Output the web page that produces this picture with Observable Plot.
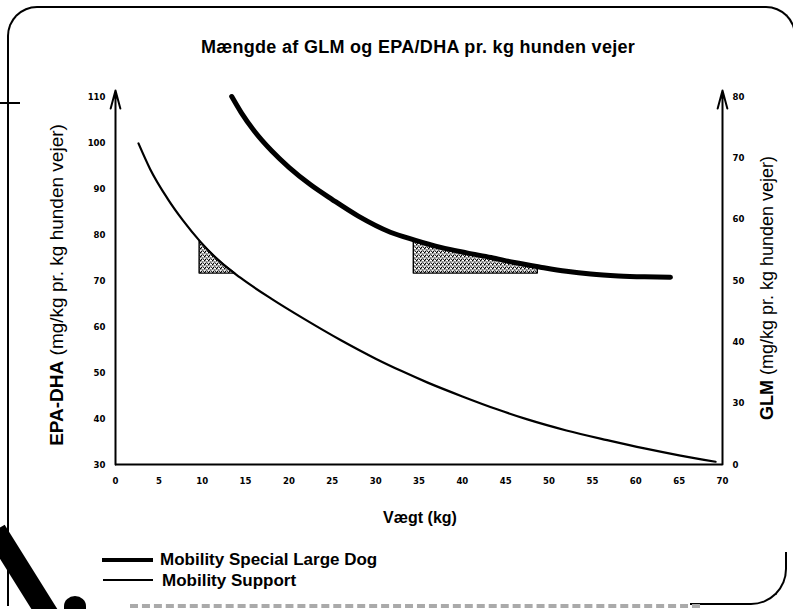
<!DOCTYPE html>
<html><head><meta charset="utf-8">
<script src="https://cdn.jsdelivr.net/npm/d3@7"></script>
<script src="https://cdn.jsdelivr.net/npm/@observablehq/plot@0.6"></script>
<style>
html,body{margin:0;padding:0;background:#fff;}
#wrap{position:relative;width:793px;height:609px;overflow:hidden;font-family:"Liberation Sans",Arial,sans-serif;color:#000;background:#fff;}
#chart{position:absolute;left:0;top:0;}
.abs{position:absolute;white-space:nowrap;}
#chart svg g[aria-label$="tick label"]{font-weight:bold;}
</style></head><body>
<div id="wrap">
  <div id="chart"></div>
  <div class="abs" style="left:7px;top:6px;width:789px;height:600px;box-sizing:border-box;border:2px solid #000;border-bottom:none;border-radius:30px 30px 0 0;"></div>
  <div class="abs" style="left:690px;top:552px;width:97px;height:53px;box-sizing:border-box;border-right:2px solid #000;border-bottom:2px solid #000;border-bottom-right-radius:36px;"></div>
  <div class="abs" style="left:0;top:102px;width:20px;height:2px;background:#000;"></div>
  <div class="abs" style="left:14px;top:522px;width:22px;height:112px;background:#000;transform:rotate(-32deg);"></div>
  <div class="abs" style="left:64px;top:596px;width:22px;height:20px;background:#000;border-radius:50% 50% 0 0;"></div>
  <div class="abs" style="left:130px;top:604px;width:570px;height:0;border-top:4px dashed #aaa;"></div>
  <div class="abs" style="left:418px;top:47px;transform:translate(-50%,-50%);font-weight:bold;font-size:18px;letter-spacing:0.3px;">Mængde af GLM og EPA/DHA pr. kg hunden vejer</div>
  <div class="abs" style="left:420px;top:518px;transform:translate(-50%,-50%);font-weight:bold;font-size:16px;">Vægt (kg)</div>
  <div class="abs" style="left:57px;top:285px;transform:translate(-50%,-50%) rotate(-90deg);font-size:19px;"><b>EPA-DHA</b> (mg/kg pr. kg hunden vejer)</div>
  <div class="abs" style="left:767px;top:288px;transform:translate(-50%,-50%) rotate(-90deg);font-size:18px;"><b>GLM</b> (mg/kg pr. kg hunden vejer)</div>
  <div class="abs" style="left:102px;top:558px;width:51px;height:4px;background:#000;"></div>
  <div class="abs" style="left:160px;top:560px;transform:translateY(-50%);font-weight:bold;font-size:17px;">Mobility Special Large Dog</div>
  <div class="abs" style="left:103px;top:579px;width:50px;height:2px;background:#000;"></div>
  <div class="abs" style="left:162px;top:581px;transform:translateY(-50%);font-weight:bold;font-size:17px;">Mobility Support</div>
</div>
<script>
const xTicks = [0,5,10,15,20,25,30,35,40,45,50,55,60,65,70];
const xTickLabels = ["0","5","10","15","20","25","30","35","40","45","50","55","60","65","70"];
const leftTicks = [30,40,50,60,70,80,90,100,110];
const rightTickLabels = ["0","30","40","50","60","70","80"];

// Mobility Support (thin)
const weightSupport = [2.65,4,6,7.8,9.8,12,14.4,18,21.7,26,30,33,36,40,44,47.5,52,56.7,61,65,69.2];
const valueSupport  = [99.8,94.2,87.8,83.0,78.4,74.2,70.6,66.0,61.7,57.0,53.0,50.3,47.8,44.8,42.0,39.8,37.4,35.3,33.5,32.0,30.6];
// Mobility Special Large Dog (thick)
const weightLarge = [13.4,14.5,16,18,20,22.5,25,28,31.7,34.5,37.5,40.5,43.3,46,49,52,54.8,58,61,64];
const valueLarge  = [110,106.5,102.5,98.2,94.6,90.8,87.6,84.0,80.5,78.8,77.2,76.0,75.0,73.9,72.9,72.0,71.4,71.0,70.8,70.7];
// shaded regions
const shadeBase = 71.5;
const shadeSupportW = [9.7,10.5,11.5,12.5,13.8];
const shadeSupportV = [78.6,77.0,75.1,73.4,71.5];
const shadeLargeW = [34.4,37,40,43,46,48.7];
const shadeLargeV = [78.8,77.4,76.2,75.1,73.9,73.0];

const zip = (w, v) => w.map((d, i) => ({w: d, v: v[i]}));
const support = zip(weightSupport, valueSupport);
const large = zip(weightLarge, valueLarge);
const shadeS = zip(shadeSupportW, shadeSupportV);
const shadeL = zip(shadeLargeW, shadeLargeV);

const rStep = 80 / (rightTickLabels.length - 1);
const rightPos = rightTickLabels.map((_, i) => 30 + i * rStep);

const svg = Plot.plot({
  width: 793, height: 609,
  marginLeft: 115, marginRight: 71, marginTop: 96, marginBottom: 145,
  x: {domain: [0, 70]},
  y: {domain: [30, 110]},
  style: {fontFamily: "'Liberation Sans Narrow','DejaVu Sans Condensed',Arial,sans-serif", background: "transparent", color: "#000"},
  marks: [
    Plot.areaY(shadeS, {x: "w", y1: shadeBase, y2: "v", fill: "url(#stip)", stroke: "#000", strokeWidth: 1.4}),
    Plot.areaY(shadeL, {x: "w", y1: shadeBase, y2: "v", fill: "url(#stip)", stroke: "#000", strokeWidth: 1.4}),
    Plot.line(support, {x: "w", y: "v", stroke: "#000", strokeWidth: 2.2, curve: "monotone-x"}),
    Plot.line(large, {x: "w", y: "v", stroke: "#000", strokeWidth: 5, curve: "monotone-x"}),
    Plot.ruleY([30], {stroke: "#000", strokeWidth: 2}),
    Plot.arrow([0], {x1: 0, x2: 0, y1: 30, y2: 111.3, stroke: "#000", strokeWidth: 2, headLength: 14, headAngle: 30}),
    Plot.arrow([0], {x1: 70, x2: 70, y1: 30, y2: 111.3, stroke: "#000", strokeWidth: 2, headLength: 14, headAngle: 30}),
    Plot.axisX({ticks: xTicks, tickSize: 0, tickPadding: 13, fontSize: 9.5, label: null,
      tickFormat: d => xTickLabels[xTicks.indexOf(d)]}),
    Plot.axisY({ticks: leftTicks, tickSize: 0, tickPadding: 10, fontSize: 9.5, label: null}),
    Plot.axisY(rightPos, {anchor: "right", tickSize: 0, tickPadding: 10, fontSize: 9.5, label: null,
      tickFormat: d => rightTickLabels[Math.round((d - 30) / rStep)]})
  ]
});
d3.select(svg).insert("defs", ":first-child").html(
  `<pattern id="stip" width="4" height="4" patternUnits="userSpaceOnUse">
     <rect width="4" height="4" fill="#fff"/>
     <rect x="0" y="0" width="1.5" height="1.5" fill="#000"/>
     <rect x="2.2" y="1.4" width="1.3" height="1.3" fill="#000"/>
     <rect x="0.8" y="2.8" width="1.4" height="1.2" fill="#000"/>
     <rect x="3" y="3.2" width="1" height="0.8" fill="#000"/>
   </pattern>`);
document.getElementById("chart").appendChild(svg);
</script>
</body></html>
